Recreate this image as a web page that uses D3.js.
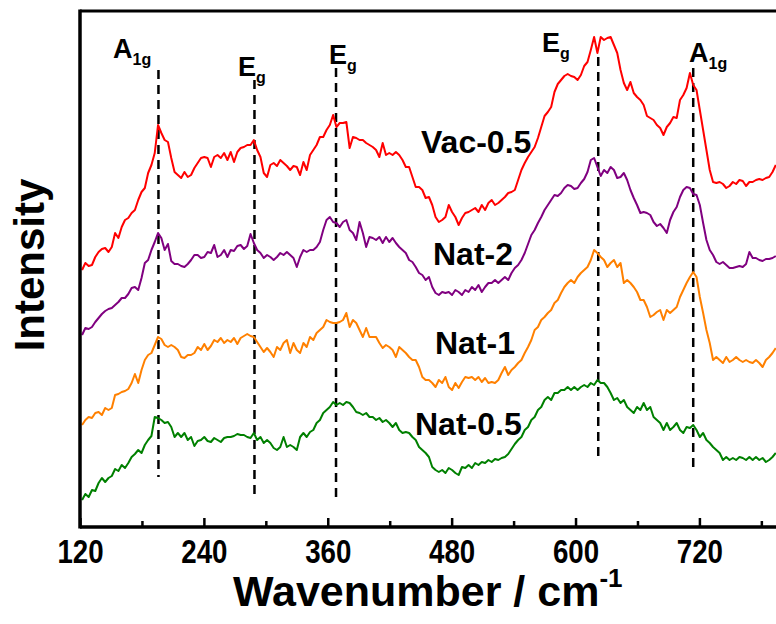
<!DOCTYPE html>
<html>
<head>
<meta charset="utf-8">
<script src="https://cdn.jsdelivr.net/npm/d3@7"></script>
<style>
  body { margin: 0; background: #fff; }
  svg text { font-family: "Liberation Sans", Arial, Helvetica, sans-serif; font-weight: bold; }
</style>
</head>
<body>
<div id="canvas"></div>
<script>
// Raman shift grid (cm-1), shared by the four spectra
const wavenumber = [
  122, 125.2, 128.4, 131.6, 134.8, 138, 141.2, 144.4, 147.6, 150.8,
  154, 157.2, 160.4, 163.6, 166.8, 170, 173.2, 176.4, 179.6, 182.8,
  186, 189.2, 192.4, 195.6, 198.8, 202, 205.2, 208.4, 211.6, 214.8,
  218, 221.2, 224.4, 227.6, 230.8, 234, 237.2, 240.4, 243.6, 246.8,
  250, 253.2, 256.4, 259.6, 262.8, 266, 269.2, 272.4, 275.6, 278.8,
  282, 285.2, 288.4, 291.6, 294.8, 298, 301.2, 304.4, 307.6, 310.8,
  314, 317.2, 320.4, 323.6, 326.8, 330, 333.2, 336.4, 339.6, 342.8,
  346, 349.2, 352.4, 355.6, 358.8, 362, 365.2, 368.4, 371.6, 374.8,
  378, 381.2, 384.4, 387.6, 390.8, 394, 397.2, 400.4, 403.6, 406.8,
  410, 413.2, 416.4, 419.6, 422.8, 426, 429.2, 432.4, 435.6, 438.8,
  442, 445.2, 448.4, 451.6, 454.8, 458, 461.2, 464.4, 467.6, 470.8,
  474, 477.2, 480.4, 483.6, 486.8, 490, 493.2, 496.4, 499.6, 502.8,
  506, 509.2, 512.4, 515.6, 518.8, 522, 525.2, 528.4, 531.6, 534.8,
  538, 541.2, 544.4, 547.6, 550.8, 554, 557.2, 560.4, 563.6, 566.8,
  570, 573.2, 576.4, 579.6, 582.8, 586, 589.2, 592.4, 595.6, 598.8,
  602, 605.2, 608.4, 611.6, 614.8, 618, 621.2, 624.4, 627.6, 630.8,
  634, 637.2, 640.4, 643.6, 646.8, 650, 653.2, 656.4, 659.6, 662.8,
  666, 669.2, 672.4, 675.6, 678.8, 682, 685.2, 688.4, 691.6, 694.8,
  698, 701.2, 704.4, 707.6, 710.8, 714, 717.2, 720.4, 723.6, 726.8,
  730, 733.2, 736.4, 739.6, 742.8, 746, 749.2, 752.4, 755.6, 758.8,
  762, 765.2, 768.4, 771.6, 774.8, 778, 781.2, 784.4, 787.6, 790.8,
  794
];

// intensities (a.u., already offset for stacking)
const vac05 = [
  257, 264, 261, 262, 270, 275, 278, 279, 275, 280, 294, 289, 300, 307, 309, 314, 317, 327, 335, 339,
  354, 362, 374, 402, 394, 387, 385, 369, 355, 352, 349, 355, 350, 352, 359, 364, 369, 370, 369, 360,
  370, 372, 369, 374, 367, 375, 365, 375, 379, 380, 382, 382,
  387, 377, 370, 354, 350, 362, 364, 361, 367, 364, 361, 357, 361, 360, 352, 365, 357, 372, 377, 382,
  390, 390, 397, 402, 412, 400, 404, 404, 405, 379, 390, 389, 387, 387, 384, 382, 380, 377, 370, 384,
  372, 374, 372, 375, 372, 367, 360, 360, 350, 340, 340, 337, 329,
  330, 322, 310, 305, 307, 310, 322, 315, 310, 302, 309, 314, 315, 317, 319, 315, 322, 317, 324, 327,
  322, 324, 327, 330, 334, 335, 337, 347, 357, 364, 370, 375, 380, 389, 400, 411, 415, 420, 435, 443,
  447, 451, 453, 451, 450, 447, 452, 461, 465, 477, 490, 474, 490,
  487, 489, 490, 482, 474, 457, 444, 437, 445, 434, 430, 427, 422, 411, 409, 407, 402, 399, 392, 400,
  404, 410, 409, 427, 432, 439, 454, 442, 437, 417, 397, 377, 357, 345, 344, 345, 343, 339, 341, 345,
  343, 347, 346, 341, 345, 345, 347, 348, 347, 349, 350, 355, 362
];
const nat2 = [
  192, 199, 198, 200, 205, 209, 213, 216, 218, 219, 222, 225, 229, 229, 233, 239, 240, 237, 249, 264,
  267, 277, 285, 294, 289, 277, 283, 266, 263, 263, 261, 260, 263, 267, 272, 272, 269, 270, 275, 274,
  282, 270, 272, 277, 270, 277, 276, 281, 282, 278, 281, 293,
  284, 277, 274, 269, 272, 270, 267, 270, 274, 272, 275, 272, 269, 260, 270, 277, 275, 277, 277, 280,
  285, 297, 307, 310, 305, 304, 300, 305, 307, 297, 294, 287, 305, 294, 280, 290, 289, 287, 290, 284,
  290, 285, 289, 284, 280, 277, 274, 267, 265, 260, 254, 252, 247,
  250, 240, 234, 232, 235, 234, 235, 232, 237, 235, 232, 237, 235, 240, 237, 242, 235, 240, 244, 244,
  247, 244, 247, 250, 247, 254, 259, 262, 267, 274, 283, 292, 297, 304, 310, 317, 322, 327, 332, 331,
  334, 339, 342, 341, 338, 339, 344, 348, 355, 367, 369, 360, 351,
  357, 354, 360, 357, 349, 350, 354, 347, 337, 329, 322, 314, 315, 314, 312, 305, 301, 303, 299, 294,
  307, 315, 320, 330, 337, 340, 339, 333, 332, 322, 304, 287, 277, 272, 265, 263, 265, 262, 259, 259,
  260, 261, 260, 263, 275, 269, 269, 267, 266, 268, 268, 269, 271
];
const nat1 = [
  102, 107, 110, 109, 114, 115, 112, 119, 117, 119, 132, 133, 135, 136, 138, 144, 153, 144, 157, 167,
  172, 174, 182, 190, 188, 182, 180, 182, 180, 177, 170, 169, 172, 172, 174, 180, 177, 183, 177, 181,
  187, 185, 189, 184, 187, 185, 189, 183, 189, 191, 193, 191,
  190, 185, 180, 175, 179, 175, 170, 180, 177, 184, 187, 174, 184, 177, 174, 184, 180, 190, 187, 194,
  197, 200, 207, 205, 204, 204, 205, 207, 214, 200, 207, 204, 197, 190, 199, 190, 190, 190, 184, 179,
  182, 180, 177, 170, 180, 177, 174, 170, 167, 167, 160, 150, 147,
  147, 144, 140, 147, 144, 150, 140, 137, 144, 139, 145, 150, 149, 150, 147, 150, 145, 149, 144, 145,
  144, 147, 154, 160, 152, 157, 160, 164, 167, 174, 180, 187, 197, 200, 207, 210, 214, 217, 224, 227,
  234, 240, 244, 247, 244, 250, 254, 257, 260, 267, 277, 274, 270,
  267, 260, 264, 267, 260, 264, 244, 247, 244, 240, 235, 227, 227, 220, 210, 212, 215, 217, 207, 217,
  214, 217, 220, 230, 237, 244, 250, 255, 250, 230, 214, 197, 184, 167, 170, 167, 164, 170, 165, 167,
  170, 167, 165, 167, 165, 164, 167, 164, 160, 167, 170, 174, 179
];
const nat05 = [
  27, 33, 30, 37, 36, 44, 49, 45, 49, 51, 58, 56, 62, 59, 64, 70, 73, 77, 74, 82,
  87, 91, 110, 109, 107, 104, 105, 100, 90, 94, 90, 94, 87, 90, 81, 86, 87, 90, 86, 85,
  89, 87, 85, 89, 90, 90, 91, 93, 92, 92, 90, 89,
  94, 87, 90, 84, 87, 84, 79, 77, 80, 90, 80, 82, 80, 77, 90, 94, 90, 95, 97, 104,
  107, 114, 117, 120, 125, 122, 124, 122, 125, 124, 120, 115, 114, 112, 114, 110, 110, 107, 109, 105,
  107, 104, 100, 104, 97, 94, 95, 94, 90, 87, 80, 77, 74,
  70, 60, 57, 55, 57, 54, 59, 57, 54, 52, 60, 59, 62, 59, 64, 62, 65, 64, 67, 65,
  68, 67, 69, 70, 73, 78, 83, 87, 90, 97, 100, 107, 110, 117, 120, 127, 130, 127, 134, 134,
  137, 137, 140, 137, 140, 137, 140, 142, 140, 144, 142, 147, 144,
  144, 140, 134, 127, 129, 124, 127, 120, 117, 114, 120, 117, 124, 117, 120, 110, 107, 104, 97, 104,
  97, 100, 104, 97, 94, 100, 99, 102, 97, 90, 94, 87, 84, 80, 77, 74, 67, 70, 67, 69,
  67, 70, 69, 67, 70, 67, 70, 67, 69, 65, 67, 70, 74
];
const seriesNames = ["Vac-0.5", "Nat-2", "Nat-1", "Nat-0.5"];

// Raman mode markers
const peakPositions = [196, 289, 368, 622, 714];
const peakSymbols = ["A", "E", "E", "E", "A"];
const peakSubs = ["1g", "g", "g", "g", "1g"];
const peakDashTop = [457, 447, 459, 470, 459];
const peakDashBottom = [50, 32, 27, 65, 54];

const xTicks = [120, 240, 360, 480, 600, 720];
const xMinorTicks = [180, 300, 420, 540, 660, 780];

const margin = { Top: 11, Right: -6, Bottom: 97, Left: 80 };
const width = 776 - margin.Left - margin.Right;
const height = 624 - margin.Top - margin.Bottom;

const svg = d3.select("#canvas").append("svg")
    .attr("width", 776)
    .attr("height", 624);

const g = svg.append("g")
    .attr("transform", `translate(${margin.Left}, ${margin.Top})`);

const x = d3.scaleLinear()
    .domain([120, 800])
    .range([0, width]);

const y = d3.scaleLinear()
    .domain([0, 516])
    .range([height, 0]);

const colors = d3.scaleOrdinal()
    .domain(seriesNames)
    .range(["#ff0000", "#800080", "#ff8000", "#008000"]);

const series = [
    { name: "Vac-0.5", values: vac05, label: [421, 153] },
    { name: "Nat-2", values: nat2, label: [433, 265] },
    { name: "Nat-1", values: nat1, label: [435, 354] },
    { name: "Nat-0.5", values: nat05, label: [415, 435] }
];

// dashed mode lines
g.selectAll(".mode")
    .data(peakPositions)
    .enter().append("line")
    .attr("class", "mode")
    .attr("x1", d => x(d))
    .attr("x2", d => x(d))
    .attr("y1", (d, i) => y(peakDashTop[i]))
    .attr("y2", (d, i) => y(peakDashBottom[i]))
    .attr("stroke", "#000")
    .attr("stroke-width", 2.5)
    .attr("stroke-dasharray", "9,6");

const line = d3.line()
    .x((d, i) => x(wavenumber[i]))
    .y(d => y(d));

g.selectAll(".spectrum")
    .data(series)
    .enter().append("path")
    .attr("class", "spectrum")
    .attr("d", d => line(d.values))
    .attr("fill", "none")
    .attr("stroke", d => colors(d.name))
    .attr("stroke-width", 2)
    .attr("stroke-linejoin", "round");

// series names
svg.selectAll(".name")
    .data(series)
    .enter().append("text")
    .attr("class", "name")
    .attr("x", d => d.label[0])
    .attr("y", d => d.label[1])
    .attr("font-size", 32)
    .text(d => d.name);

// mode labels
const modeLabelPos = [[113, 58], [238, 76], [329, 64], [542, 52], [689, 62]];
const modeText = svg.selectAll(".modeLabel")
    .data(peakPositions)
    .enter().append("text")
    .attr("class", "modeLabel")
    .attr("x", (d, i) => modeLabelPos[i][0])
    .attr("y", (d, i) => modeLabelPos[i][1]);
modeText.append("tspan")
    .attr("font-size", 27)
    .text((d, i) => peakSymbols[i]);
modeText.append("tspan")
    .attr("font-size", 16)
    .attr("dy", 7)
    .text((d, i) => peakSubs[i]);

// axes
const xAxisCall = d3.axisBottom(x)
    .tickValues(xTicks)
    .tickSizeInner(-9)
    .tickSizeOuter(0)
    .tickPadding(13);
const xAxisGroup = g.append("g")
    .attr("class", "x axis")
    .attr("transform", `translate(0, ${height})`)
    .call(xAxisCall);
xAxisGroup.select(".domain").remove();
xAxisGroup.selectAll("line").attr("stroke-width", 2.5);
// condensed look of the original tick labels
xAxisGroup.selectAll("text")
    .attr("font-size", 33)
    .attr("transform", "scale(0.84, 1)")
    .attr("fill", "#000");

const minorGroup = g.append("g")
    .attr("transform", `translate(0, ${height})`)
    .call(d3.axisBottom(x).tickValues(xMinorTicks).tickSizeInner(-6).tickSizeOuter(0).tickFormat(""));
minorGroup.select(".domain").remove();
minorGroup.selectAll("line").attr("stroke-width", 2.5);

// frame
g.append("line").attr("x1", 0).attr("x2", 0).attr("y1", -1.5).attr("y2", height + 1.5)
    .attr("stroke", "#000").attr("stroke-width", 3.5);
g.append("line").attr("x1", 0).attr("x2", width).attr("y1", height).attr("y2", height)
    .attr("stroke", "#000").attr("stroke-width", 3.5);
g.append("line").attr("x1", 0).attr("x2", width).attr("y1", 0).attr("y2", 0)
    .attr("stroke", "#000").attr("stroke-width", 3);

// axis titles
const xTitle = svg.append("text")
    .attr("x", 233)
    .attr("y", 606)
    .attr("font-size", 43);
xTitle.append("tspan").text("Wavenumber / cm");
xTitle.append("tspan").attr("font-size", 26).attr("dy", -19).text("-1");

svg.append("text")
    .attr("transform", "translate(44, 265) rotate(-90)")
    .attr("text-anchor", "middle")
    .attr("font-size", 42)
    .text("Intensity");
</script>
</body>
</html>
